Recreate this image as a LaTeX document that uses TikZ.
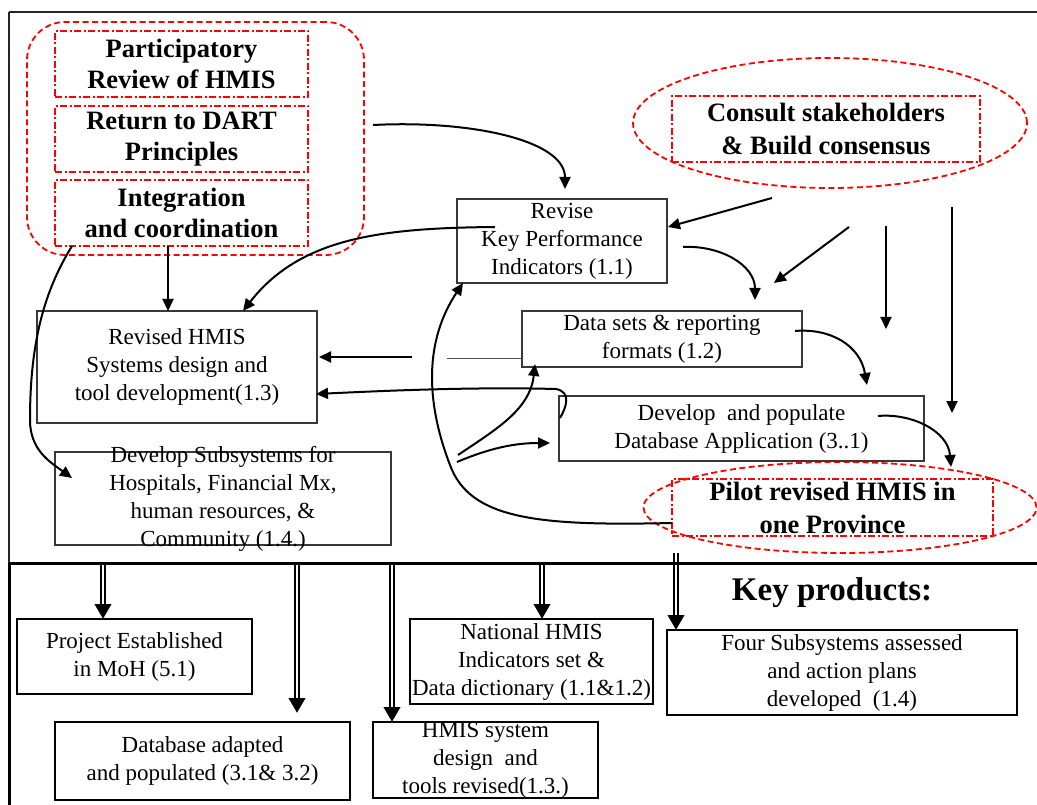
\documentclass[tikz,border=0pt]{standalone}
\usepackage{fontspec}
\setmainfont{Liberation Serif}
\usetikzlibrary{arrows.meta,shapes.geometric,calc}
\begin{document}
\begin{tikzpicture}[x=1pt,y=-1pt,
  every node/.style={inner sep=0pt, outer sep=0pt},
  box/.style={draw=black!78, line width=1.2pt},
  pbox/.style={draw=black, line width=2pt},
  txt/.style={align=center, font=\fontsize{23}{28}\selectfont},
  btxt/.style={align=center, font=\bfseries\fontsize{26.5}{31}\selectfont},
  bbtxt/.style={align=center, font=\bfseries\fontsize{26.5}{33}\selectfont},
  reddash/.style={draw=red, line width=1.8pt, dash pattern=on 6pt off 3.5pt},
  reddot/.style={draw=red, line width=1.8pt, dash pattern=on 7pt off 2.5pt on 2pt off 2.5pt},
  arr/.style={draw=black, line width=2pt, -{Triangle[width=11pt,length=12pt]}},
  dbl/.style={draw=black, line width=6.6pt, -{Triangle[width=16pt,length=15pt]},
    postaction={draw=white, line width=1.3pt, shorten >=15pt, arrows=-}},
]
\useasboundingbox (0,0) rectangle (1037,805);

% ---- top-left group
\node[reddash, rounded corners=38pt, minimum width=337pt, minimum height=233pt] (grp) at (195.5,138.5) {};
\node[reddot, btxt, minimum width=253pt, minimum height=66pt] (par) at (181.5,64) {Participatory\\Review of HMIS};
\node[reddot, btxt, minimum width=253pt, minimum height=66pt] (dart) at (181.5,139) {Return to DART\\Principles};
\node[reddot, btxt, minimum width=253pt, minimum height=66pt] (int) at (181.5,213) {Integration\\and coordination};

% ---- consult
\node[reddash, ellipse, minimum width=394pt, minimum height=130pt] (cell) at (830,123) {};
\node[reddot, bbtxt, minimum width=308pt, minimum height=66pt] (con) at (826,129) {Consult stakeholders\\\& Build consensus};

% ---- pilot
\node[reddash, ellipse, minimum width=393pt, minimum height=91pt] (pell) at (840,507.5) {};
\node[reddot, minimum width=321pt, minimum height=57pt,
  label={[bbtxt]center:{Pilot revised HMIS in\\one Province}}] (pilot) at (832.5,507.5) {};

% ---- process boxes
\node[box, txt, minimum width=210pt, minimum height=84pt] (rev) at (562,241) {Revise\\Key Performance\\Indicators (1.1)};
\node[box, txt, minimum width=280pt, minimum height=56pt] (ds) at (662,339) {Data sets \& reporting\\formats (1.2)};
\node[box, txt, minimum width=365pt, minimum height=65pt] (dev) at (741.5,428.5) {Develop~ and populate\\Database Application (3..1)};
\node[box, txt, minimum width=280pt, minimum height=112pt] (rhmis) at (177,367) {Revised HMIS\\Systems design and\\tool development(1.3)};
\node[box, minimum width=336pt, minimum height=93pt,
  label={[txt]center:{Develop Subsystems for\\Hospitals, Financial Mx,\\human resources, \&\\Community (1.4.)}}] (dsub) at (223,498.5) {};

% ---- products
\node[font=\bfseries\fontsize{33}{38}\selectfont] (kp) at (832,593) {Key products:};
\node[pbox, txt, minimum width=235pt, minimum height=75pt] (proj) at (134.5,656.5) {Project Established\\in MoH (5.1)};
\node[pbox, txt, minimum width=295pt, minimum height=78pt] (db) at (202.5,761) {Database adapted\\and populated (3.1\& 3.2)};
\node[pbox, txt, minimum width=243pt, minimum height=85pt] (nat) at (531.5,661.5) {National HMIS\\Indicators set \&\\Data dictionary (1.1\&1.2)};
\node[pbox, minimum width=225pt, minimum height=76pt,
  label={[txt]center:{HMIS system\\design~ and\\tools revised(1.3.)}}] (hsys) at (485.5,760) {};
\node[pbox, txt, minimum width=350pt, minimum height=85pt] (four) at (842,672.5) {Four Subsystems assessed\\and action plans\\developed~ (1.4)};

% ---- free ends
\coordinate (s1) at (373,125);
\coordinate (e1) at (755,300);
\coordinate (c1) at (772,198);
\coordinate (c2) at (849,227);
\coordinate (c3) at (774,283);
\coordinate (c4) at (886,226);
\coordinate (c5) at (886,329);
\coordinate (c6) at (952,207);
\coordinate (c7) at (952,413);
\coordinate (c8) at (867,385);
\coordinate (c9) at (412,357);
\coordinate (c10) at (447,358);
\coordinate (c11) at (458,455);
\coordinate (c12) at (457,462);

% ---- connectors
\draw[arr] (s1) .. controls (470,120) and (565,140) .. ($(rev.north)+(3,-10)$);
\draw[arr] ($(rev.west)+(38,-14)$) .. controls (380,228) and (300,238) .. ($(rhmis.north)+(66,0)$);
\draw[arr] ($(int.south)+(-13.5,0)$) -- ($(rhmis.north)+(-9,0)$);
\draw[arr] ($(int.south west)+(17,0)$) .. controls (45,290) and (30,340) .. (30,420)
   .. controls (30,450) and (50,462) .. ($(dsub.north west)+(17,26)$);
\draw[arr] ($(rev.east)+(16,6)$) .. controls (720,245) and (755,265) .. (e1);
\draw[arr] (c1) -- ($(rev.east)+(1,-14)$);
\draw[arr] (c2) -- (c3);
\draw[arr] (c4) -- (c5);
\draw[arr] (c6) -- (c7);
\draw[arr] ($(ds.east)+(-7,-8)$) .. controls (830,328) and (860,345) .. (c8);
\draw[arr] ($(dev.east)+(-46,-12.5)$) .. controls (910,413) and (948,430) .. ($(pell.north)+(111,5)$);
\draw[arr] (c9) -- ($(rhmis.east)+(2,-10)$);
\draw[draw=black!70, line width=1pt] (c10) -- ($(ds.west)+(0,19)$);
\draw[arr] ($(dev.west)+(1,-10.5)$) .. controls (566,408) and (572,392) .. (556,389)
   .. controls (480,387) and (400,390) .. ($(rhmis.east)+(-1,27)$);
\draw[arr] (c11) .. controls (495,430) and (530,410) .. ($(ds.south)+(-127,-3)$);
\draw[arr] (c12) .. controls (490,448) and (515,443) .. ($(dev.west)+(-9,14.5)$);
\draw[arr] ($(pilot.west)+(0,15.5)$) .. controls (540,526) and (470,520) .. (450,465)
   .. controls (425,400) and (425,340) .. ($(rev.south west)+(6,0)$);

% ---- product arrows
\coordinate (b1) at (103,563);
\coordinate (b2) at (297,563);
\coordinate (b3) at (392,563);
\coordinate (b4) at (542,563);
\coordinate (b5) at (676,553);
\draw[dbl] (b1) -- (b1 |- proj.north);
\draw[dbl] (b2) -- ($(b2 |- db.north)+(0,-9)$);
\draw[dbl] (b3) -- (b3 |- hsys.north);
\draw[dbl] (b4) -- (b4 |- nat.north);
\draw[dbl] (b5) -- (b5 |- four.north);

% ---- frame
\draw[line width=1.5pt, black!85] (9,12) -- (1037,12);
\draw[line width=2pt, black!85] (9,12) -- (9,563);
\draw[line width=3pt] (9,563) -- (9,805);
\draw[line width=3pt] (9,563) -- (1037,563);
\end{tikzpicture}
\end{document}
